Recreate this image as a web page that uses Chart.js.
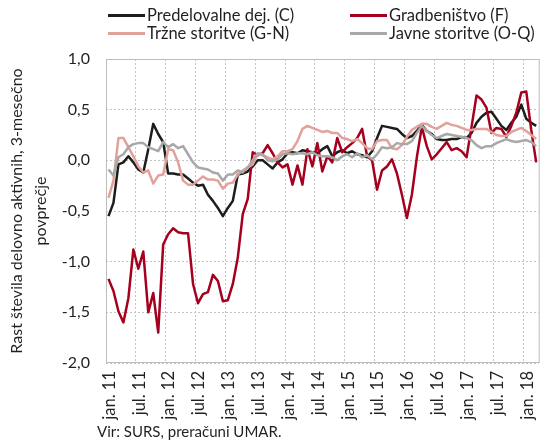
<!DOCTYPE html>
<html>
<head>
<meta charset="utf-8">
<script src="https://cdn.jsdelivr.net/npm/chart.js@4"></script>
<style>
html,body{margin:0;padding:0;background:#fff;}
#wrap{position:relative;width:559px;height:441px;font-family:Lato,sans-serif;color:#231f20;overflow:hidden;}
#chart{position:absolute;left:0;top:0;}
.leg{position:absolute;font-size:16.5px;line-height:18px;white-space:nowrap;}
.leg i{display:inline-block;width:37px;height:3px;vertical-align:middle;margin-right:2px;position:relative;top:-1px;}
#src{position:absolute;left:97px;top:422px;font-size:15px;white-space:nowrap;}
</style>
</head>
<body>
<div id="wrap">
  <canvas id="chart" width="559" height="441"></canvas>
  <div id="legend"></div>
  <div id="src">Vir: SURS, preračuni UMAR.</div>
</div>
<script>
// months jan.11 .. mar.18
const monthNames = ['jan.','feb.','mar.','apr.','maj','jun.','jul.','avg.','sep.','okt.','nov.','dec.'];
const years = ['11','12','13','14','15','16','17','18'];
const nMonths = 87;
const labels = [];
for (let i = 0; i < nMonths; i++) labels.push(monthNames[i % 12] + ' ' + years[Math.floor(i / 12)]);

const seriesNames = ['Predelovalne dej. (C)', 'Gradbeništvo (F)', 'Tržne storitve (G-N)', 'Javne storitve (O-Q)'];
const seriesColors = ['#1d1d1b', '#a6001f', '#e3a19b', '#a8a8a8'];

const predelovalne = [-0.55,-0.42,-0.04,-0.02,0.04,-0.02,-0.09,-0.12,0.11,0.36,
  0.26,0.18,-0.13,-0.13,-0.14,-0.14,-0.18,-0.22,-0.25,-0.24,
  -0.34,-0.40,-0.47,-0.55,-0.47,-0.40,-0.14,-0.13,-0.11,-0.06,
  0.00,0.00,-0.04,-0.08,-0.02,0.01,0.07,0.08,0.07,0.10,
  0.09,0.08,0.07,0.11,0.14,0.04,0.08,0.10,0.07,0.09,
  0.06,0.05,0.03,0.09,0.22,0.34,0.33,0.32,0.31,0.26,
  0.22,0.24,0.29,0.35,0.29,0.26,0.21,0.20,0.20,0.21,
  0.21,0.23,0.22,0.27,0.37,0.43,0.47,0.48,0.41,0.34,
  0.30,0.37,0.43,0.55,0.41,0.37,0.34];

const gradbenistvo = [-1.17,-1.29,-1.49,-1.60,-1.36,-0.88,-1.07,-0.90,-1.50,-1.31,
  -1.70,-0.83,-0.73,-0.67,-0.71,-0.72,-0.72,-1.22,-1.41,-1.32,
  -1.30,-1.13,-1.19,-1.39,-1.38,-1.22,-0.96,-0.53,-0.38,0.08,
  0.05,0.07,0.15,0.07,-0.02,-0.07,-0.04,-0.24,-0.05,-0.24,
  0.11,-0.06,0.17,-0.11,0.04,-0.02,0.22,0.08,0.13,0.17,
  0.22,0.31,0.04,0.00,-0.29,-0.10,-0.06,0.01,-0.13,-0.34,
  -0.57,-0.34,0.03,0.33,0.14,0.01,0.06,0.12,0.18,0.10,
  0.12,0.09,0.03,0.33,0.64,0.60,0.52,0.27,0.32,0.31,
  0.23,0.34,0.47,0.67,0.68,0.30,-0.02];

const trzne = [-0.37,-0.20,0.22,0.22,0.13,0.04,-0.06,-0.12,-0.10,-0.23,
  -0.15,-0.14,0.11,0.10,-0.02,-0.20,-0.24,-0.24,-0.20,-0.16,
  -0.19,-0.19,-0.20,-0.28,-0.23,-0.22,-0.14,-0.10,-0.07,-0.04,
  0.06,0.05,0.03,0.01,0.04,0.09,0.09,0.11,0.19,0.31,
  0.34,0.32,0.30,0.28,0.29,0.27,0.27,0.22,0.21,0.19,
  0.21,0.17,0.12,0.11,0.19,0.20,0.20,0.12,0.11,0.15,
  0.23,0.30,0.33,0.36,0.36,0.33,0.31,0.34,0.37,0.35,
  0.34,0.32,0.30,0.30,0.31,0.31,0.31,0.28,0.25,0.24,
  0.24,0.28,0.30,0.32,0.29,0.25,0.21];

const javne = [-0.09,-0.15,0.03,0.06,0.13,0.16,0.17,0.17,0.13,0.11,
  0.09,0.18,0.13,0.16,0.12,0.14,0.06,-0.02,-0.07,-0.08,
  -0.09,-0.12,-0.13,-0.20,-0.14,-0.14,-0.10,-0.12,-0.07,0.00,
  0.07,0.06,0.00,-0.01,0.01,0.06,0.07,0.06,0.07,0.07,
  0.06,0.08,0.05,0.04,0.04,0.03,0.00,0.04,0.06,0.03,
  0.07,0.03,0.05,0.01,0.06,0.13,0.12,0.13,0.17,0.16,
  0.16,0.19,0.27,0.34,0.29,0.25,0.22,0.24,0.26,0.25,
  0.24,0.23,0.22,0.20,0.15,0.12,0.14,0.14,0.17,0.19,
  0.21,0.19,0.18,0.19,0.20,0.18,0.14];

const seriesData = [predelovalne, gradbenistvo, trzne, javne];

// html legend, 2 columns
const legendEl = document.getElementById('legend');
const legPos = [[108, 6], [350, 6], [108, 24], [350, 24]];
seriesNames.forEach((name, k) => {
  const d = document.createElement('div');
  d.className = 'leg';
  d.style.left = legPos[k][0] + 'px';
  d.style.top = legPos[k][1] + 'px';
  d.innerHTML = '<i style="background:' + seriesColors[k] + '"></i>' + name;
  legendEl.appendChild(d);
});

const gridGray = '#c4c4c4';
const txt = '#231f20';

// plot frame under the lines
const frame = {
  id: 'frame',
  beforeDatasetsDraw(chart) {
    const a = chart.chartArea, ctx = chart.ctx;
    ctx.save();
    ctx.strokeStyle = '#bdbdbd';
    ctx.lineWidth = 1;
    ctx.strokeRect(a.left + 0.5, a.top + 0.5, a.right - a.left, a.bottom - a.top - 1);
    ctx.restore();
  }
};

new Chart(document.getElementById('chart'), {
  type: 'line',
  data: {
    labels: labels,
    datasets: seriesData.map((d, k) => ({
      label: seriesNames[k],
      data: d,
      borderColor: seriesColors[k],
      backgroundColor: seriesColors[k],
      borderWidth: 2.5,
      pointRadius: 0,
      tension: 0,
      borderJoinStyle: 'round',
      order: 4 - k
    }))
  },
  options: {
    responsive: false,
    animation: false,
    layout: { padding: { top: 59, right: 0, bottom: 0, left: 0 } },
    plugins: { legend: { display: false }, tooltip: { enabled: false } },
    scales: {
      x: {
        offset: true,
        grid: {
          offset: true,
          color: c => c.index % 6 === 0 ? gridGray : 'rgba(0,0,0,0)',
          tickColor: 'rgba(0,0,0,0)',
          tickLength: 5
        },
        border: { display: false, dash: [2, 2] },
        ticks: {
          autoSkip: false, minRotation: 90, maxRotation: 90, padding: 3, labelOffset: 1,
          color: txt, font: { family: 'Lato', size: 16.5 },
          callback: (v, i) => i % 6 === 0 ? labels[i] : ''
        },
        afterFit: s => { s.height = 78; }
      },
      y: {
        min: -2, max: 1,
        ticks: {
          stepSize: 0.5, padding: 16, color: txt, font: { family: 'Lato', size: 16 },
          callback: v => v.toFixed(1).replace('.', ',')
        },
        grid: { color: gridGray, drawTicks: false },
        border: { display: false, dash: [2, 2] },
        title: {
          display: true,
          text: ['Rast števila delovno aktivnih, 3-mesečno', 'povprečje'],
          color: txt,
          font: { family: 'Lato', size: 16, lineHeight: 1.5 },
          padding: { top: 5, bottom: 0 }
        },
        afterFit: s => { s.width = 106; }
      }
    }
  },
  plugins: [frame]
});
</script>
</body>
</html>
